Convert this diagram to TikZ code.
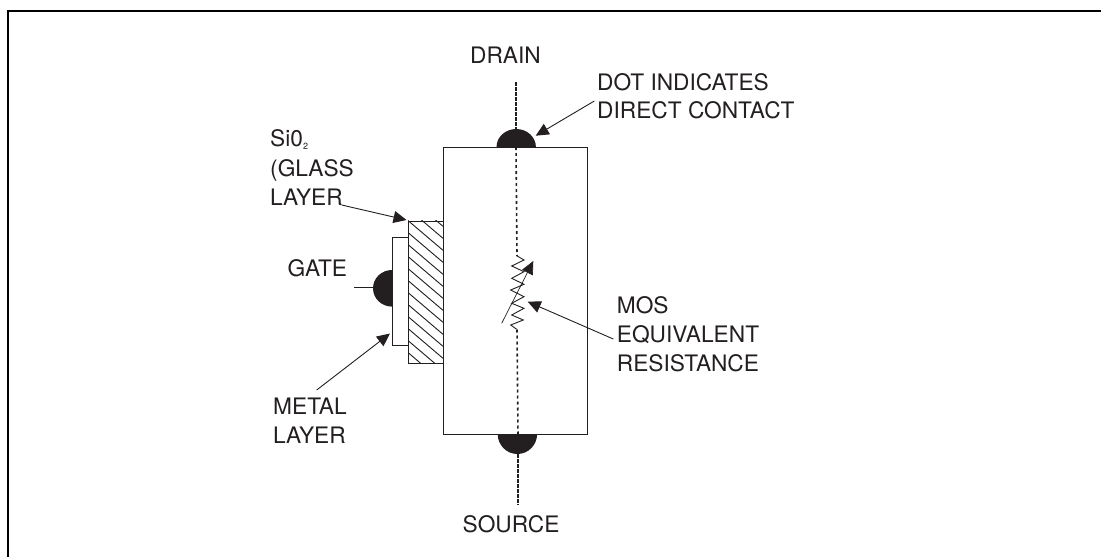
\documentclass[tikz,border=0pt]{standalone}
\usepackage{fontspec}
\setmainfont{TeX Gyre Heros}
\usetikzlibrary{arrows.meta}
\definecolor{ink}{HTML}{231F20}
\tikzset{
 x=1pt,y=-1pt,
 lab/.style={font=\fontsize{22.7}{28.7}\selectfont,text=ink,inner sep=0pt,align=left},
 lin/.style={draw=ink,line width=0.9pt},
 arr/.style={draw=ink,line width=0.9pt,-{Triangle[length=13pt,width=12pt]}},
 dots/.style={draw=ink,line width=1.6pt,dash pattern=on 3pt off 3pt},
 tight/.style={draw=ink,line width=1.2pt,dash pattern=on 4pt off 1pt}
}
\begin{document}
\begin{tikzpicture}
\useasboundingbox (0,0) rectangle (1101,557);
\draw[black,line width=2pt] (8,557) -- (8,11) -- (1101,11);
% body
\node[draw=ink,line width=1pt,minimum width=143.5pt,minimum height=287pt,inner sep=0pt,anchor=north west] (body) at (443,147) {};
% contacts
\fill[ink] (496.5,147) arc[start angle=180,end angle=360,x radius=19.7,y radius=18];
\fill[ink] (497.7,434) arc[start angle=180,end angle=0,x radius=19.7,y radius=20];
\fill[ink] (392,270) arc[start angle=270,end angle=90,x radius=19,y radius=18.3];
% oxide hatching
\begin{scope}
\clip (408,220.7) rectangle (443,362.7);
\foreach \i in {-3,...,14}{ \draw[ink,line width=0.9pt] (443,{238.3+\i*12}) -- ++(-45,-38.25); }
\end{scope}
\node[draw=ink,line width=1pt,minimum width=35pt,minimum height=142pt,inner sep=0pt,anchor=north west] (oxide) at (408,220.7) {};
\node[draw=ink,line width=1pt,fill=white,minimum width=16.5pt,minimum height=107.5pt,inner sep=0pt,anchor=north west] (metal) at (391.5,237.3) {};
% leads
\coordinate (dt) at (516,82);
\coordinate (st) at (518,505);
\coordinate (gt) at (354.3,287.7);
\draw[tight] (dt) -- (516,129);
\draw[dots] (516,147) -- (517,256);
\draw[dots] (517,329.5) -- (518,434);
\draw[tight] (518,454) -- (st);
\draw[lin] (gt) -- (373,287.7);
% resistor
\draw[lin] (516.7,255.7) -- (524,260) -- (511.7,266) -- (524,271.7) -- (511.7,278.3) -- (524,284.3) -- (510.7,290) -- (524,296.7) -- (511.7,303.3) -- (524,308.3) -- (511.7,315) -- (523.3,320) -- (510.7,325) -- (516.7,329.3);
\coordinate (rb) at (501.7,323.3);
\coordinate (rtip) at (533.3,261);
\draw[arr,line width=0.7pt] (rb) -- (rtip);
% labels
\node[lab,anchor=base] (drain) at (505.5,63) {DRAIN};
\node[lab,anchor=base west] (dotl) at (597,90) {DOT INDICATES};
\node[lab,anchor=base west] (dotm) at (597,118.7) {DIRECT CONTACT};
\node[lab,anchor=base west] (sioa) at (270,146) {Si0\raisebox{-0.3ex}{\fontsize{9}{10}\selectfont 2}};
\node[lab,anchor=base west] (siob) at (270,176) {(GLASS};
\node[lab,anchor=base west] (sioc) at (270,205) {LAYER};
\node[lab,anchor=base west] (gate) at (287.3,276) {GATE};
\node[lab,anchor=base west] (meta) at (273,414) {METAL};
\node[lab,anchor=base west] (metb) at (273,443) {LAYER};
\node[lab,anchor=base west] (mosa) at (616.7,313) {MOS};
\node[lab,anchor=base west] (mosb) at (616.7,342) {EQUIVALENT};
\node[lab,anchor=base west] (mosc) at (616.7,371.7) {RESISTANCE};
\node[lab,anchor=base] (src) at (511,532.7) {SOURCE};
% arrows
\coordinate (a1s) at (594.3,101); \coordinate (a1e) at (535.7,135.7);
\coordinate (a2s) at (341.7,205); \coordinate (a2e) at (406.5,220);
\coordinate (a3s) at (613.3,339); \coordinate (a3e) at (527.7,301.7);
\coordinate (a4s) at (316.7,390); \coordinate (a4e) at (390,333.5);
\draw[arr] (a1s) -- (a1e);
\draw[arr] (a2s) -- (a2e);
\draw[arr] (a3s) -- (a3e);
\draw[arr] (a4s) -- (a4e);
\end{tikzpicture}
\end{document}
